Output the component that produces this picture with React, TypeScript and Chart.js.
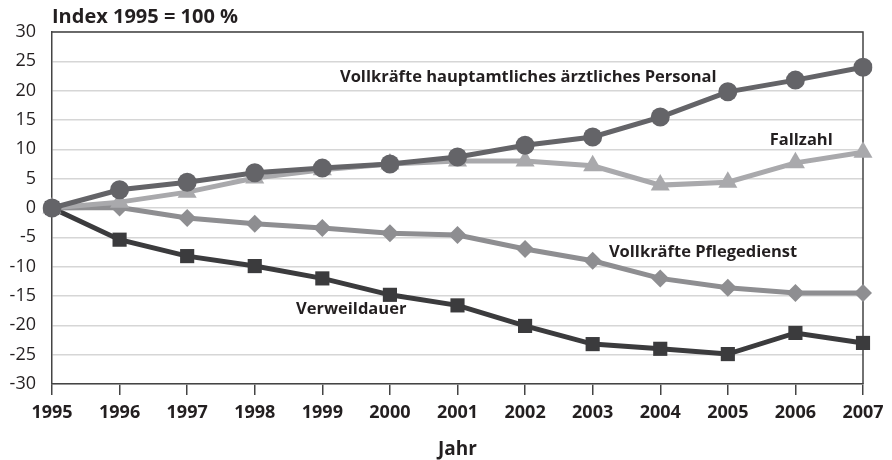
import React, { useEffect, useRef } from "react";
import { Chart, registerables } from "chart.js";

Chart.register(...registerables);

const years = ["1995", "1996", "1997", "1998", "1999", "2000", "2001", "2002", "2003", "2004", "2005", "2006", "2007"];
const aerztlich = [0, 3.1, 4.4, 6.0, 6.8, 7.5, 8.7, 10.7, 12.1, 15.5, 19.8, 21.8, 24.0];
const fallzahl = [0, 1.0, 2.7, 5.1, 6.5, 7.5, 8.0, 8.0, 7.2, 3.9, 4.4, 7.7, 9.5];
const pflege = [0, 0.1, -1.7, -2.7, -3.4, -4.3, -4.6, -7.0, -9.0, -12.0, -13.6, -14.5, -14.5];
const verweil = [0, -5.4, -8.2, -9.9, -12.0, -14.8, -16.6, -20.1, -23.2, -24.0, -24.9, -21.3, -23.0];
const seriesLabels = [
  "Vollkräfte hauptamtliches ärztliches Personal",
  "Fallzahl",
  "Vollkräfte Pflegedienst",
  "Verweildauer",
];
// label anchor: [x index (left edge), y value (middle)]
const labelAnchors: [number, number][] = [
  [4.26, 22.2],
  [10.62, 11.6],
  [8.24, -7.5],
  [3.61, -17.2],
];

const FONT = "'Open Sans', sans-serif";
const TEXT = "#231f20";

const textPlugin = {
  id: "texts",
  beforeDatasetsDraw(chart: any) {
    const { ctx, chartArea } = chart;
    ctx.save();
    ctx.strokeStyle = "#444";
    ctx.lineWidth = 1.5;
    ctx.beginPath();
    ctx.moveTo(chartArea.left, chartArea.top);
    ctx.lineTo(chartArea.right, chartArea.top);
    ctx.lineTo(chartArea.right, chartArea.bottom);
    ctx.stroke();
    ctx.restore();
  },
  afterDatasetsDraw(chart: any) {
    const { ctx, chartArea, scales } = chart;
    ctx.save();
    ctx.fillStyle = TEXT;
    ctx.textBaseline = "middle";
    ctx.textAlign = "left";
    ctx.font = `bold 16.5px ${FONT}`;
    seriesLabels.forEach((t, i) => {
      const [xi, yv] = labelAnchors[i];
      const x = scales.x.getPixelForValue(0) + (scales.x.getPixelForValue(1) - scales.x.getPixelForValue(0)) * xi;
      const y = scales.y.getPixelForValue(yv);
      ctx.fillText(t, x, y);
    });
    ctx.font = `bold 20px ${FONT}`;
    ctx.textAlign = "left";
    ctx.fillText("Index 1995 = 100 %", chartArea.left, 17);
    ctx.textAlign = "center";
    ctx.font = `bold 19px ${FONT}`;
    ctx.fillText("Jahr", (chartArea.left + chartArea.right) / 2, 450);
    ctx.restore();
  },
};

export default function App() {
  const ref = useRef<HTMLCanvasElement>(null);
  useEffect(() => {
    document.body.style.margin = "0";
    const ds = (label: string, data: number[], color: string, style: string, r: number) => ({
      label,
      data,
      borderColor: color,
      backgroundColor: color,
      pointBackgroundColor: color,
      pointBorderColor: color,
      pointStyle: style,
      pointRadius: r,
      borderWidth: 5,
      pointBorderWidth: 0,
      tension: 0,
    });
    const chart = new Chart(ref.current!, {
      type: "line",
      data: {
        labels: years,
        datasets: [
          ds(seriesLabels[0], aerztlich, "#646468", "circle", 9.5),
          ds(seriesLabels[1], fallzahl, "#a9a9ac", "triangle", 11),
          ds(seriesLabels[2], pflege, "#8e8e91", "rectRot", 9),
          ds(seriesLabels[3], verweil, "#3b3b3d", "rect", 10),
        ],
      },
      options: {
        animation: false,
        responsive: false,
        layout: { padding: { left: 0, right: 29, top: 32, bottom: 0 } },
        plugins: { legend: { display: false }, tooltip: { enabled: false } },
        scales: {
          x: {
            offset: false,
            afterFit: (s: any) => { s.height = 76; },
            grid: { drawOnChartArea: false, drawTicks: true, tickLength: 11, color: "#444", lineWidth: 1.5 },
            border: { display: true, color: "#444", width: 1.5 },
            ticks: { color: TEXT, font: { family: FONT, size: 18, weight: "bold" }, padding: 7, maxRotation: 0, autoSkip: false },
          },
          y: {
            min: -30,
            max: 30,
            afterFit: (s: any) => { s.width = 52; },
            grid: { color: "#d6d6d6", lineWidth: 1.5, drawTicks: false },
            border: { display: true, color: "#444", width: 1.5 },
            ticks: { stepSize: 5, color: TEXT, font: { family: FONT, size: 18 }, padding: 16 },
          },
        },
      },
      plugins: [textPlugin],
    });
    return () => chart.destroy();
  }, []);
  return (
    <div style={{ position: "absolute", left: 0, top: 0, width: 892, height: 460 }}>
      <canvas ref={ref} width={892} height={460} style={{ display: "block" }} />
    </div>
  );
}
